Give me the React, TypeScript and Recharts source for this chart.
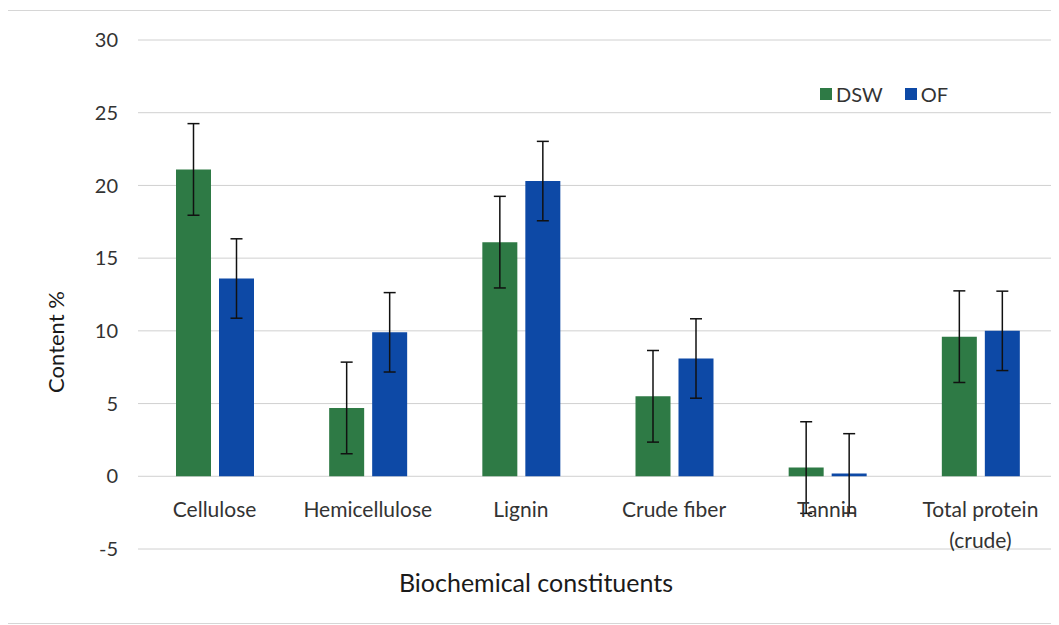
import React from 'react';
import {
  Bar,
  BarChart,
  CartesianGrid,
  ErrorBar,
  Legend,
  XAxis,
  YAxis,
} from 'recharts';

const categories = ['Cellulose', 'Hemicellulose', 'Lignin', 'Crude fiber', 'Tannin', 'Total protein (crude)'];
const dswValues = [21.1, 4.7, 16.1, 5.5, 0.6, 9.6];
const ofValues = [13.6, 9.9, 20.3, 8.1, 0.2, 10.0];
const dswErrors = [3.15, 3.15, 3.15, 3.15, 3.15, 3.15];
const ofErrors = [2.73, 2.73, 2.73, 2.73, 2.73, 2.73];
const yTicks = [-5, 0, 5, 10, 15, 20, 25, 30];

const GREEN = '#2e7a45';
const BLUE = '#0d49a6';
const FONT = 'Lato, "Open Sans", sans-serif';

const data = categories.map((name, i) => ({
  name,
  DSW: dswValues[i],
  OF: ofValues[i],
  dswErr: dswErrors[i],
  ofErr: ofErrors[i],
}));

// long labels break at the last space, like "Total protein / (crude)"
const splitLabel = (label: string): string[] => {
  if (label.length <= 14) return [label];
  const cut = label.lastIndexOf(' ');
  return [label.slice(0, cut), label.slice(cut + 1)];
};

// category names sit just under the zero line rather than at the bottom of the plot
const CategoryTick = ({ x, y, payload }: any) => {
  const lines = splitLabel(payload.value);
  return (
    <text x={x} y={y - 32} textAnchor="middle" fill="#333" fontSize={21} fontFamily={FONT}>
      {lines.map((line, i) => (
        <tspan key={line} x={x} dy={i === 0 ? 0 : 31}>
          {line}
        </tspan>
      ))}
    </text>
  );
};

const LegendContent = ({ payload }: any) => (
  <div style={{ display: 'flex', alignItems: 'center', fontFamily: FONT, fontSize: 20, color: '#333' }}>
    {(payload || []).map((entry: any) => (
      <div key={entry.value} style={{ display: 'flex', alignItems: 'center', marginRight: 22 }}>
        <span style={{ width: 12, height: 12, background: entry.color, marginRight: 4, display: 'inline-block' }} />
        <span>{entry.value}</span>
      </div>
    ))}
  </div>
);

export default function App() {
  return (
    <div style={{ position: 'relative', width: 1051, height: 617, fontFamily: FONT }}>
      <style>{'body{overflow:hidden}'}</style>
      <div
        style={{
          position: 'absolute',
          left: -1,
          top: 2,
          width: 1060,
          height: 614,
          border: '1px solid #d6d6d6',
          boxSizing: 'border-box',
        }}
      />
      <BarChart
        width={1051}
        height={617}
        data={data}
        margin={{ top: 32, right: 2, left: 0, bottom: 0 }}
        barSize={35}
        barGap={8}
      >
        <CartesianGrid vertical={false} stroke="#d0d0d0" />
        <XAxis
          dataKey="name"
          height={76}
          axisLine={false}
          tickLine={false}
          tickSize={0}
          tickMargin={0}
          interval={0}
          tick={<CategoryTick />}
        />
        <YAxis
          width={130}
          domain={[-5, 30]}
          ticks={yTicks}
          axisLine={false}
          tickLine={false}
          tickSize={0}
          tickMargin={20}
          tick={{ fill: '#333', fontSize: 20, fontFamily: FONT }}
        />
        {/* middle/center keeps the legend from taking space away from the plot */}
        <Legend
          layout="horizontal"
          align="center"
          verticalAlign="middle"
          content={<LegendContent />}
          wrapperStyle={{ position: 'absolute', left: 812, top: 74, width: 'auto' }}
        />
        <Bar dataKey="DSW" fill={GREEN} isAnimationActive={false}>
          <ErrorBar dataKey="dswErr" width={6} stroke="#111" strokeWidth={1.5} />
        </Bar>
        <Bar dataKey="OF" fill={BLUE} isAnimationActive={false}>
          <ErrorBar dataKey="ofErr" width={6} stroke="#111" strokeWidth={1.5} />
        </Bar>
      </BarChart>
      <div
        style={{
          position: 'absolute',
          left: 47,
          top: 334,
          transform: 'translate(-50%, -50%) rotate(-90deg)',
          fontSize: 22,
          color: '#1a1a1a',
          whiteSpace: 'nowrap',
        }}
      >
        Content %
      </div>
      <div
        style={{
          position: 'absolute',
          left: 528,
          top: 574,
          transform: 'translate(-50%, -50%)',
          fontSize: 25,
          color: '#1a1a1a',
          whiteSpace: 'nowrap',
        }}
      >
        Biochemical constituents
      </div>
    </div>
  );
}
